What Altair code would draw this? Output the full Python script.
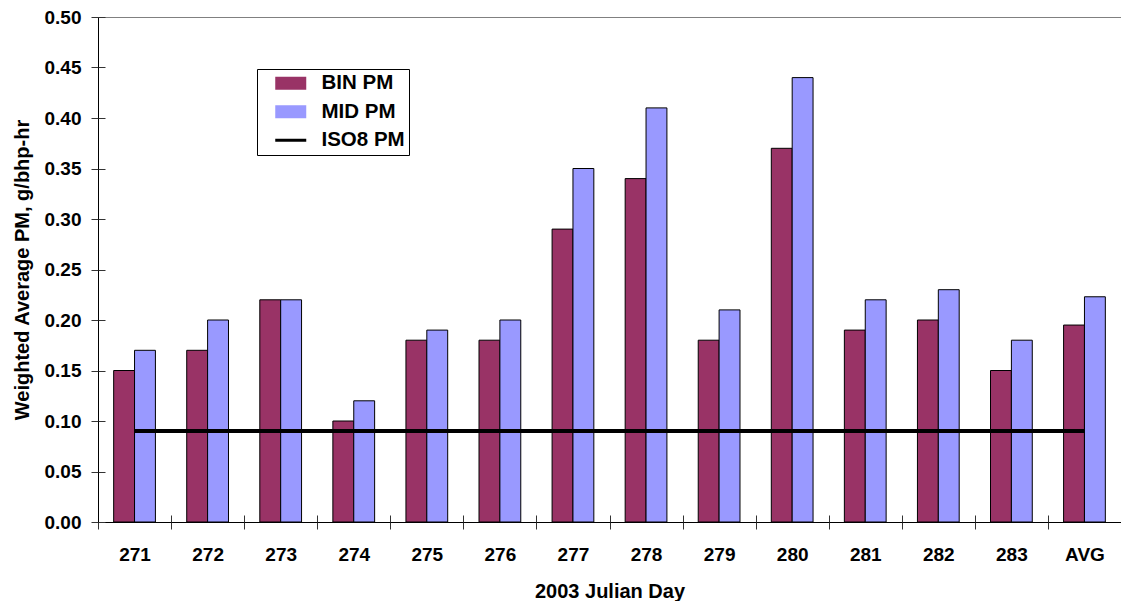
import altair as alt
import pandas as pd

days = ["271", "272", "273", "274", "275", "276", "277", "278", "279", "280", "281", "282", "283", "AVG"]
bin_pm = [0.15, 0.17, 0.22, 0.10, 0.18, 0.18, 0.29, 0.34, 0.18, 0.37, 0.19, 0.20, 0.15, 0.195]
mid_pm = [0.17, 0.20, 0.22, 0.12, 0.19, 0.20, 0.35, 0.41, 0.21, 0.44, 0.22, 0.23, 0.18, 0.223]
iso8_pm = [0.09, 0.09, 0.09, 0.09, 0.09, 0.09, 0.09, 0.09, 0.09, 0.09, 0.09, 0.09, 0.09, 0.09]
series = ["BIN PM", "MID PM", "ISO8 PM"]
colors = ["#993366", "#9999FF", "#000000"]
y_ticks = [0.0, 0.05, 0.10, 0.15, 0.20, 0.25, 0.30, 0.35, 0.40, 0.45, 0.50]

bars_df = pd.DataFrame({
    "day": days * 2,
    "series": ["BIN PM"] * len(days) + ["MID PM"] * len(days),
    "value": bin_pm + mid_pm,
})
line_df = pd.DataFrame({"day": days, "value": iso8_pm})
legend_df = pd.DataFrame({"series": series, "day": [days[0]] * 3, "value": iso8_pm[:3]})

FONT = "Liberation Sans"
TICK = "#333333"

x_enc = alt.X(
    "day:N", sort=days,
    scale=alt.Scale(paddingInner=0, paddingOuter=0),
    axis=alt.Axis(
        title="2003 Julian Day", labelAngle=0, tickBand="extent",
        labelFontSize=19, titleFontSize=20, labelPadding=16, titlePadding=17,
        tickSize=7, domainColor="black", tickColor=TICK,
    ),
)
y_enc = alt.Y(
    "value:Q",
    scale=alt.Scale(domain=[0, 0.5], nice=False),
    axis=alt.Axis(
        title="Weighted Average PM, g/bhp-hr", values=y_ticks, format=".2f",
        labelFontSize=19, titleFontSize=20, labelPadding=10, titlePadding=12,
        tickSize=7, domainColor="black", tickColor=TICK, grid=False,
    ),
)

rect_path = "M0.5,-0.8125H4.375V0.8125H0.5Z"
line_path = "M0.5,-0.1875H4.375V0.1875H0.5Z"

color_scale = alt.Scale(domain=series, range=colors)

legend_props = dict(
    orient="none", legendX=159, legendY=52, title=None,
    strokeColor="black", fillColor="white", padding=4,
    labelFont=FONT, labelFontSize=20.5, labelFontWeight="bold",
    labelOffset=40, rowPadding=7.5, symbolSize=256,
    symbolOpacity=1, symbolStrokeColor="black", symbolStrokeWidth=1,
    labelExpr="datum.label + '\u00a0\u00a0'",
)

bars = alt.Chart(bars_df).mark_bar(stroke="black", strokeWidth=1, opacity=1).encode(
    x=x_enc,
    xOffset=alt.XOffset("series:N", sort=series[:2],
                        scale=alt.Scale(paddingInner=0, paddingOuter=0.75)),
    y=y_enc,
    color=alt.Color("series:N", scale=color_scale, legend=alt.Legend(**legend_props)),
)

# inner halves of the crossing tick marks (a second, label-less axis pair)
line = alt.Chart(line_df).mark_line(color="black", strokeWidth=4).encode(
    x=alt.X("day:N", sort=days,
            axis=alt.Axis(orient="bottom", offset=-7, labels=False, domain=False,
                          title=None, tickSize=7, tickBand="extent", tickColor=TICK)),
    y=alt.Y("value:Q",
            axis=alt.Axis(orient="left", offset=-7, labels=False, domain=False,
                          title=None, tickSize=7, values=y_ticks, grid=False, tickColor=TICK)),
)

legend_layer = alt.Chart(legend_df).mark_point(filled=True, opacity=0).encode(
    x=alt.X("day:N", sort=days, axis=None),
    y=alt.Y("value:Q", axis=None),
    color=alt.Color("series:N", scale=color_scale, legend=alt.Legend(**legend_props)),
    shape=alt.Shape(
        "series:N",
        scale=alt.Scale(domain=series, range=[rect_path, rect_path, line_path]),
        legend=alt.Legend(**legend_props),
    ),
)

chart = alt.layer(bars, line, legend_layer).resolve_axis(
    x="independent", y="independent",
).properties(
    width=1023, height=505,
    autosize=alt.AutoSizeParams(type="none"),
    padding={"left": 90, "top": 9, "right": 0, "bottom": 79},
).configure(
    font=FONT,
).configure_axis(
    labelFont=FONT, titleFont=FONT, labelFontWeight="bold", titleFontWeight="bold",
    labelColor="black", titleColor="black",
).configure_view(
    stroke="#808080", strokeWidth=1,
)

chart.save("out.html", embed_options={"renderer": "svg", "actions": False})
